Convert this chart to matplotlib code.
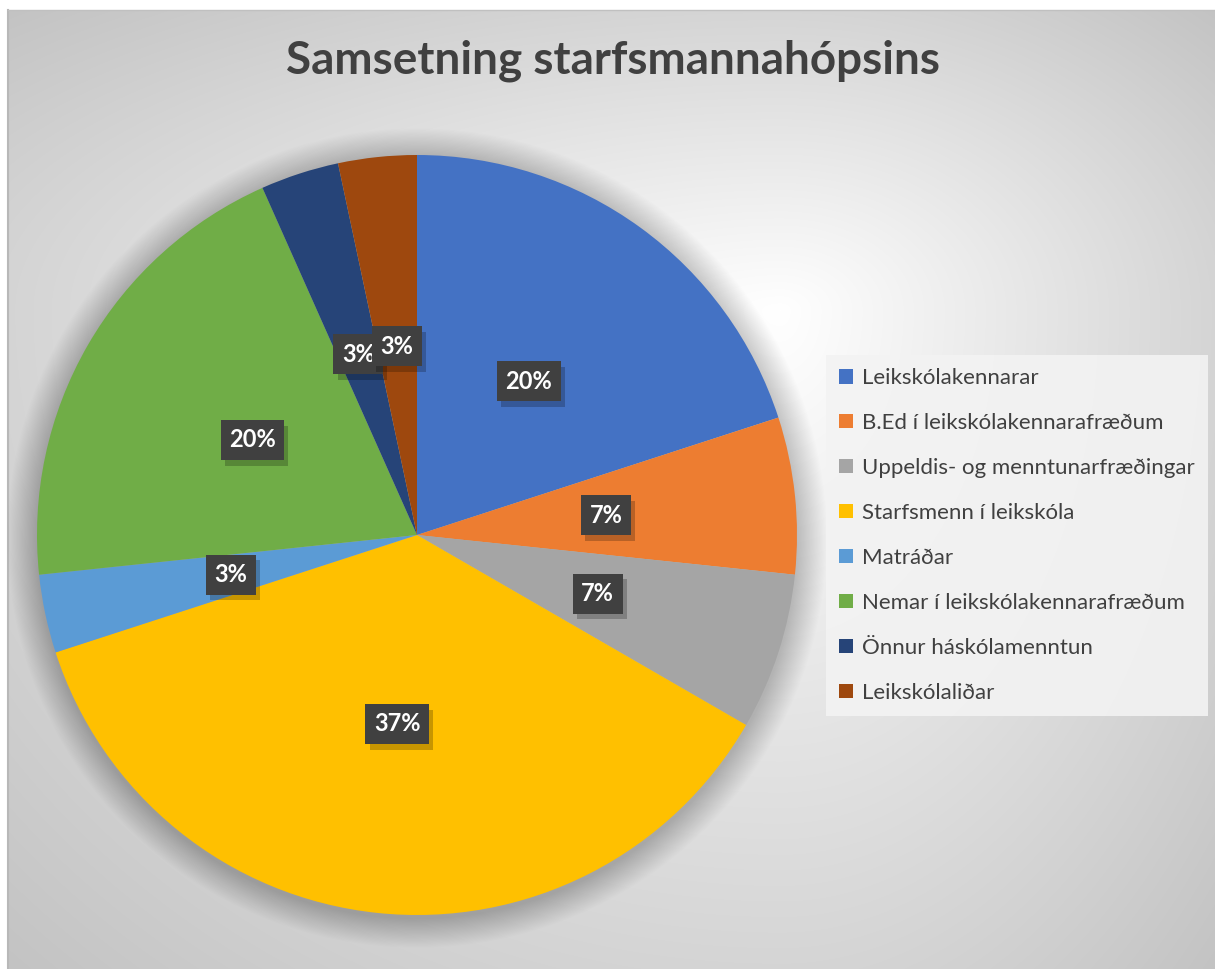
import numpy as np
import matplotlib
matplotlib.use("Agg")
import matplotlib.pyplot as plt
import matplotlib.patheffects as pe
from matplotlib.patches import Circle

# ---- data ----
categories = [
    "Leikskólakennarar",
    "B.Ed í leikskólakennarafræðum",
    "Uppeldis- og menntunarfræðingar",
    "Starfsmenn í leikskóla",
    "Matráðar",
    "Nemar í leikskólakennarafræðum",
    "Önnur háskólamenntun",
    "Leikskólaliðar",
]
counts = [6, 2, 2, 11, 1, 6, 1, 1]
colors = ["#4472C4", "#ED7D31", "#A5A5A5", "#FFC000",
          "#5B9BD5", "#70AD47", "#264478", "#9E480E"]
title = "Samsetning starfsmannahópsins"

W, H = 1215, 969
DPI = 100
fig = plt.figure(figsize=(W / DPI, H / DPI), dpi=DPI)
fig.patch.set_facecolor("white")

# ---- background gradient (chart area) ----
left_px, top_px = 8, 10
bg = fig.add_axes([left_px / W, 0, 1 - left_px / W, (H - top_px) / H])
bg.set_axis_off()
nx, ny = W - left_px, H - top_px
xs = np.arange(nx) + left_px
ys = np.arange(ny) + top_px
X, Y = np.meshgrid(xs, ys)
cx, cy = 780.0, 310.0
ax_l, ax_r = cx - left_px, W - cx
ay_t, ay_b = cy - top_px, H - cy
dx = np.where(X < cx, (cx - X) / ax_l, (X - cx) / ax_r)
dy = np.where(Y < cy, (cy - Y) / ay_t, (Y - cy) / ay_b)
t = np.clip(np.sqrt(dx ** 2 + dy ** 2) / np.sqrt(2), 0, 1)
g = 1.0 - t * (1.0 - 0.765)
img = np.dstack([g, g, g])
bg.imshow(img, extent=(0, 1, 0, 1), aspect="auto", origin="upper",
          interpolation="bilinear")
bg.set_xlim(0, 1)
bg.set_ylim(0, 1)
bg.plot([0, 0], [0, 1], color="#b8b8b8", lw=1.5, transform=bg.transAxes, clip_on=False)
bg.plot([0, 1], [1, 1], color="#c0c0c0", lw=1.0, transform=bg.transAxes, clip_on=False)

# ---- pie ----
pcx, pcy, R = 417, 535, 380
ext = 1.12
ax = fig.add_axes([(pcx - R * ext) / W, (H - pcy - R * ext) / H,
                   2 * R * ext / W, 2 * R * ext / H])
ax.set_axis_off()

# soft shadow around the pie
n_sh = 26
for k in range(n_sh):
    ax.add_patch(Circle((0.0, -0.008), 1.0 + 0.003 * (n_sh - k), color="black",
                        alpha=0.009, lw=0, zorder=0))

wedges, texts, autotexts = ax.pie(
    counts, colors=colors, startangle=90, counterclock=False,
    autopct="%1.0f%%", pctdistance=0.5,
    wedgeprops=dict(linewidth=0),
    textprops=dict(color="white", fontsize=17, fontweight="bold", family="Lato"),
)
ax.set_xlim(-ext, ext)
ax.set_ylim(-ext, ext)
ax.set_aspect("equal")

for i, at in enumerate(autotexts):
    at.set_ha("center")
    at.set_va("center")
    at.set_zorder(10 + i)
    at.set_bbox(dict(boxstyle="square,pad=0.36", fc="#404040", lw=0))
    at.get_bbox_patch().set_path_effects([
        pe.SimplePatchShadow(offset=(3, -4), shadow_rgbFace="black", alpha=0.22),
        pe.Normal(),
    ])

# ---- title ----
fig.text(613 / W, 1 - 61 / H, title, ha="center", va="center",
         fontsize=33, fontweight="bold", family="Lato", color="#404040")

# ---- legend ----
leg = fig.legend(wedges, categories, loc="upper left",
                 bbox_to_anchor=(826 / W, 1 - 355 / H),
                 bbox_transform=fig.transFigure, borderaxespad=0,
                 frameon=True, fancybox=False, edgecolor="none",
                 facecolor="#f3f3f3", framealpha=0.9,
                 prop=dict(family="Lato", size=16),
                 handlelength=0.6, handleheight=0.6, handletextpad=0.4,
                 labelspacing=1.12, borderpad=0.6)
for txt in leg.get_texts():
    txt.set_color("#404040")

fig.savefig("out.png", dpi=DPI)
